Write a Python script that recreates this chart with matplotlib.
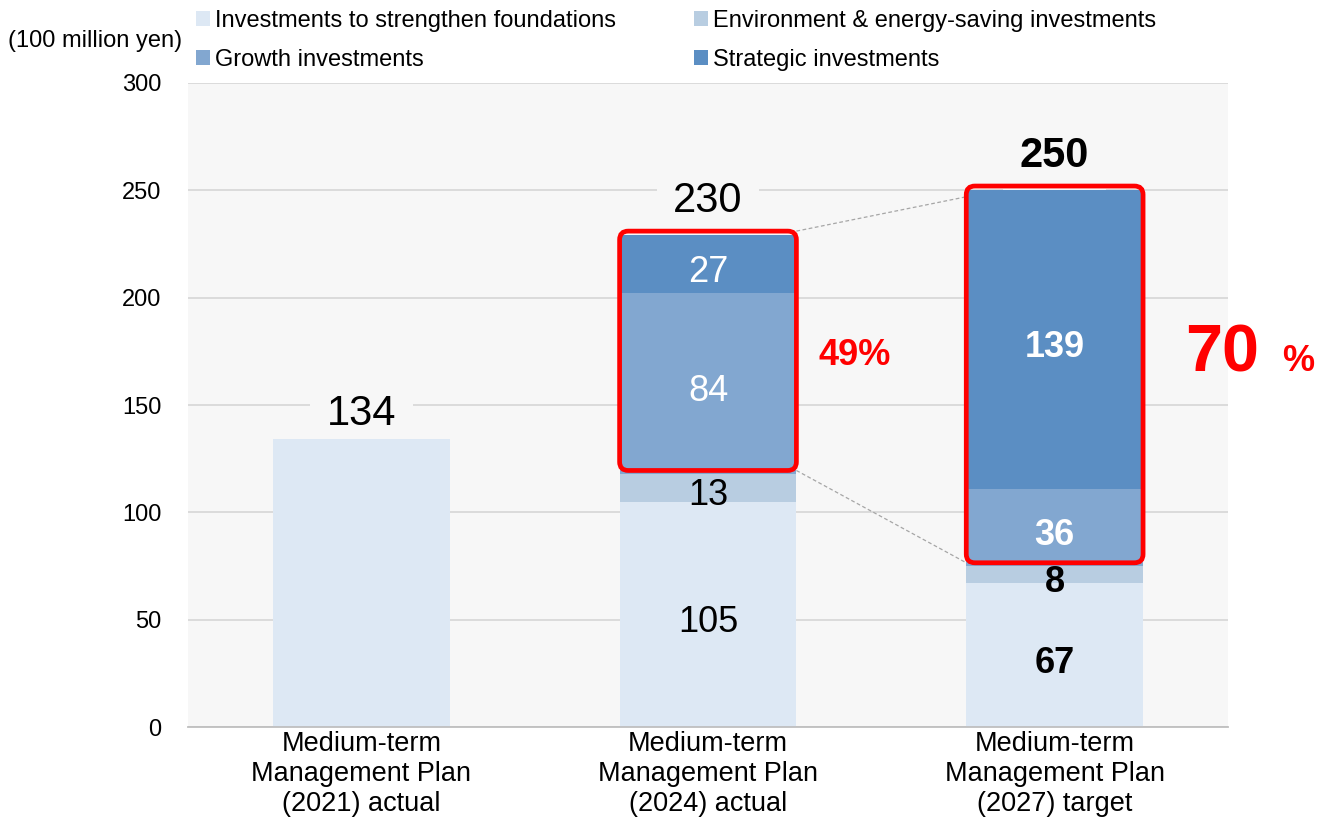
import numpy as np
import matplotlib.pyplot as plt
from matplotlib.patches import FancyBboxPatch

plt.rcParams['font.family'] = ['Liberation Sans', 'DejaVu Sans']

# ---- data (100 million yen) ----
categories = [
    "Medium-term\nManagement Plan\n(2021) actual",
    "Medium-term\nManagement Plan\n(2024) actual",
    "Medium-term\nManagement Plan\n(2027) target",
]
foundation = [134, 105, 67]
environment = [0, 13, 8]
growth = [0, 84, 36]
strategic = [0, 27, 139]
total_labels = ["134", "230", "250"]
share_2024 = "49%"
share_2027 = "70"

series_names = [
    "Investments to strengthen foundations",
    "Environment & energy-saving investments",
    "Growth investments",
    "Strategic investments",
]
series_colors = ["#dde8f4", "#b8cde1", "#82a7d0", "#5b8ec3"]
label_colors = ["black", "black", "white", "white"]

# ---- figure / axes ----
W, H = 1322, 822
fig = plt.figure(figsize=(W / 100, H / 100), dpi=100)
fig.patch.set_facecolor("white")
ax = fig.add_axes([188 / W, 95 / H, 1040 / W, 644 / H])
ax.set_facecolor("#f7f7f7")

x = np.arange(len(categories))
bar_w = 0.51
series = [foundation, environment, growth, strategic]

bottom = np.zeros(len(categories))
containers = []
for vals, col in zip(series, series_colors):
    vals = np.asarray(vals, dtype=float)
    c = ax.bar(x, vals, bar_w, bottom=bottom, color=col, linewidth=0, zorder=2)
    containers.append(c)
    bottom = bottom + vals
totals = bottom

# segment labels (2024 regular, 2027 bold)
bottom = np.zeros(len(categories))
for vals, tcol in zip(series, label_colors):
    vals = np.asarray(vals, dtype=float)
    for i in (1, 2):
        if vals[i] > 0:
            ax.annotate(f"{vals[i]:.0f}", xy=(x[i], bottom[i] + vals[i] / 2),
                        xytext=(0, -3), textcoords="offset points",
                        ha="center", va="center_baseline", fontsize=26, color=tcol,
                        fontweight="bold" if i == 2 else "normal", zorder=6)
    bottom = bottom + vals

# total labels above bars, on a background patch that breaks the gridlines
total_offsets = [10, 17, 17]
for i, (lab, off) in enumerate(zip(total_labels, total_offsets)):
    ax.annotate(lab, xy=(x[i], totals[i]), xytext=(0, off),
                textcoords="offset points", ha="center", va="baseline",
                fontsize=30, fontweight="bold" if i == 2 else "normal",
                color="black", zorder=1.5,
                bbox=dict(boxstyle="square,pad=0.4", fc="#f7f7f7", ec="none"))

# red frames around growth + strategic portions, and dashed connectors
px_per_x = 1040 / 3
px_per_y = 644 / 300
aspect = px_per_x / px_per_y
frames = []
for i in (1, 2):
    lo = foundation[i] + environment[i] + 1.5
    hi = totals[i] + 2
    frame = FancyBboxPatch((x[i] - bar_w / 2, lo), bar_w, hi - lo,
                           boxstyle="round,pad=0,rounding_size=0.025",
                           mutation_aspect=aspect,
                           fc="none", ec="#ff0000", lw=3.4, zorder=5)
    ax.add_patch(frame)
    frames.append((x[i] - bar_w / 2, x[i] + bar_w / 2, lo, hi))

(l1, r1, lo1, hi1), (l2, r2, lo2, hi2) = frames
ax.plot([r1, l2], [hi1, hi2 - 5], ls=(0, (3, 2)), color="#a6a6a6", lw=0.9, zorder=3)
ax.plot([r1, l2], [lo1, lo2], ls=(0, (3, 2)), color="#a6a6a6", lw=0.9, zorder=3)

ax.text(1.424, 173, share_2024, ha="center", va="center", fontsize=26,
        fontweight="bold", color="#ff0000", zorder=6)
ax.text(2.483, 165.8, share_2027, ha="center", va="baseline", fontsize=48,
        fontweight="bold", color="#ff0000", zorder=6, clip_on=False)
ax.text(2.702, 165.8, "%", ha="center", va="baseline", fontsize=26,
        fontweight="bold", color="#ff0000", zorder=6, clip_on=False)

# ---- axes styling ----
ax.set_xlim(-0.5, 2.5)
ax.set_ylim(0, 300)
ax.set_yticks(np.arange(0, 301, 50))
ax.set_xticks(x, categories)
ax.yaxis.grid(True, color="#d9d9d9", lw=1.3, zorder=0.5)
ax.set_axisbelow(True)
for s in ("top", "right", "left"):
    ax.spines[s].set_visible(False)
ax.spines["bottom"].set_color("#bfbfbf")
ax.spines["bottom"].set_linewidth(1.3)
ax.tick_params(axis="y", length=0, pad=19, labelsize=17)
ax.tick_params(axis="x", length=0, pad=3, labelsize=19.5)

fig.text(8 / W, 1 - 41 / H, "(100 million yen)", ha="left", va="center", fontsize=17)

# legend: two rows, row-major order
handles = [containers[0], containers[2], containers[1], containers[3]]
names = [series_names[0], series_names[2], series_names[1], series_names[3]]
fig.legend(handles, names, loc="upper left", bbox_to_anchor=(196 / W, 1 - 10 / H),
           ncol=2, frameon=False, fontsize=17, borderpad=0, borderaxespad=0,
           handlelength=0.6, handleheight=0.6, handletextpad=0.2,
           columnspacing=3.3, labelspacing=0.71)

fig.savefig("out.png", dpi=100)
